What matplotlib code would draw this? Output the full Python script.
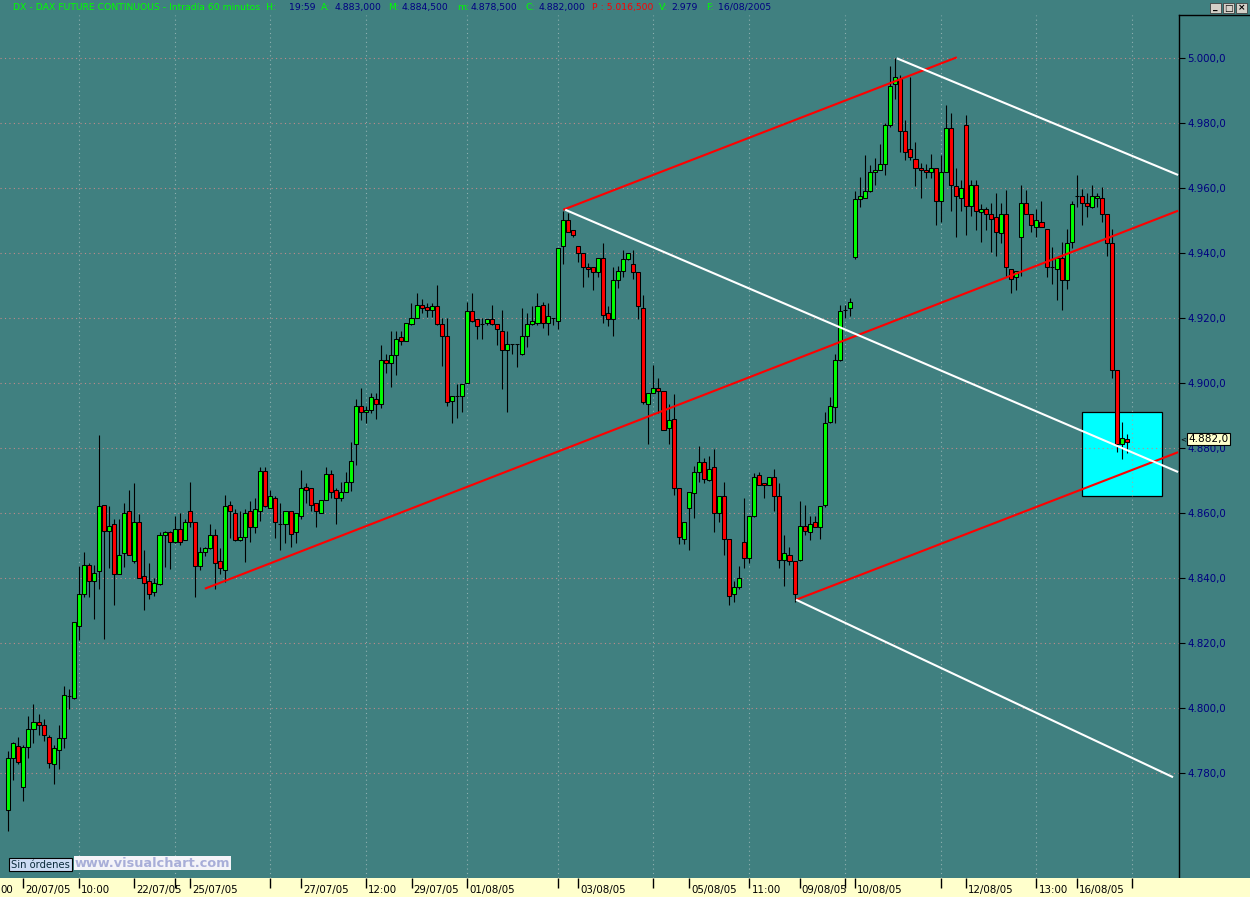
import matplotlib
matplotlib.use("Agg")
import matplotlib.pyplot as plt
import matplotlib.patches as mpatches
from matplotlib.lines import Line2D
from matplotlib.ticker import FixedLocator, FuncFormatter

# -----------------------------------------------------------
# Data: DAX future, 60 minute bars, 19/07/05 - 16/08/05
# -----------------------------------------------------------
opens = [
    4768.7, 4784.6, 4788.5, 4775.7, 4788.0, 4793.5, 4795.9, 4794.8, 4791.1, 4782.8,
    4787.2, 4790.8, 4803.8, 4803.1, 4825.2, 4835.1, 4844.0, 4839.1, 4842.2, 4862.5,
    4854.5, 4856.6, 4841.2, 4847.7, 4860.6, 4845.2, 4857.2, 4840.6, 4839.1, 4835.7,
    4838.2, 4853.2, 4854.2, 4851.1, 4855.1, 4851.7, 4860.6, 4857.2, 4843.7, 4848.0,
    4849.2, 4853.2, 4845.2, 4842.5, 4862.5, 4860.0, 4851.7, 4852.6, 4860.6, 4855.7,
    4860.6, 4873.1, 4861.5, 4864.6, 4856.6, 4856.6, 4860.6, 4854.2, 4859.1, 4868.0,
    4867.7, 4863.1, 4860.0, 4864.0, 4872.0, 4867.1, 4864.6, 4866.5, 4869.5, 4881.2,
    4892.9, 4891.1, 4891.7, 4895.1, 4893.5, 4907.1, 4906.2, 4908.6, 4914.2, 4912.9,
    4918.2, 4920.0, 4924.0, 4923.4, 4922.5, 4923.7, 4918.2, 4914.5, 4894.5, 4896.0,
    4896.0, 4900.0, 4922.2, 4919.7, 4918.2, 4918.5, 4919.7, 4918.2, 4916.0, 4910.2,
    4912.0, 4912.0, 4908.9, 4914.5, 4918.2, 4918.5, 4924.0, 4918.5, 4920.0, 4919.1,
    4942.2, 4950.2, 4947.1, 4942.2, 4940.0, 4935.7, 4935.7, 4934.2, 4938.5, 4921.5,
    4919.7, 4931.7, 4934.5, 4938.2, 4936.6, 4934.2, 4923.1, 4893.5, 4896.9, 4898.5,
    4897.5, 4886.2, 4888.9, 4867.7, 4852.0, 4861.5, 4866.2, 4872.6, 4875.7, 4870.2,
    4874.2, 4860.0, 4865.2, 4852.0, 4835.1, 4837.2, 4851.1, 4846.2, 4859.1, 4871.7,
    4869.2, 4868.6, 4871.1, 4865.2, 4845.5, 4847.1, 4845.2, 4845.5, 4856.0, 4854.2,
    4857.2, 4855.7, 4862.5, 4888.0, 4892.6, 4907.1, 4922.5, 4923.1, 4939.0, 4956.7,
    4956.9, 4959.1, 4964.9, 4965.5, 4967.4, 4979.4, 4992.0, 4993.5, 4977.5, 4972.0,
    4968.9, 4966.2, 4965.5, 4964.9, 4966.2, 4956.0, 4964.9, 4978.5, 4960.6, 4956.9,
    4979.4, 4954.5, 4960.9, 4952.6, 4953.5, 4952.0, 4951.1, 4946.2, 4952.0, 4935.1,
    4932.6, 4944.9, 4955.4, 4952.0, 4948.0, 4949.5, 4947.4, 4935.7, 4935.1, 4938.5,
    4931.7, 4943.4, 4957.6, 4957.6, 4955.4, 4954.2, 4956.9, 4956.9, 4952.0, 4943.1,
    4904.0, 4881.2, 4883.0,
]
highs = [
    4786.9, 4789.7, 4791.1, 4788.7, 4797.6, 4801.3, 4798.3, 4796.6, 4791.7, 4788.7,
    4794.9, 4806.9, 4805.8, 4826.5, 4843.8, 4848.0, 4844.6, 4844.0, 4884.1, 4862.5,
    4862.2, 4858.2, 4858.2, 4863.1, 4867.1, 4869.2, 4859.7, 4848.6, 4844.6, 4840.0,
    4854.2, 4854.5, 4854.5, 4859.1, 4860.0, 4858.2, 4869.5, 4857.2, 4849.5, 4849.5,
    4856.6, 4855.1, 4849.2, 4865.5, 4863.7, 4861.2, 4860.6, 4861.2, 4863.7, 4864.6,
    4874.4, 4874.4, 4867.1, 4865.2, 4863.1, 4860.6, 4860.6, 4860.0, 4873.3, 4869.2,
    4867.7, 4863.1, 4864.0, 4874.4, 4873.3, 4867.7, 4869.5, 4872.7, 4882.0, 4895.1,
    4898.5, 4892.9, 4896.9, 4896.9, 4911.7, 4908.9, 4916.0, 4916.0, 4916.0, 4918.5,
    4924.6, 4927.7, 4925.8, 4924.6, 4924.6, 4930.3, 4920.0, 4920.0, 4896.0, 4899.7,
    4899.7, 4924.9, 4927.7, 4919.7, 4920.0, 4919.7, 4924.0, 4918.2, 4922.5, 4916.0,
    4912.0, 4912.0, 4923.1, 4921.5, 4923.7, 4927.7, 4924.9, 4924.6, 4920.0, 4941.5,
    4952.9, 4952.3, 4947.1, 4942.2, 4940.0, 4936.9, 4935.7, 4938.5, 4943.1, 4923.7,
    4935.7, 4936.0, 4940.9, 4940.0, 4940.9, 4934.2, 4927.2, 4896.9, 4905.5, 4901.5,
    4897.5, 4893.5, 4896.6, 4867.7, 4857.2, 4866.5, 4874.5, 4880.6, 4876.9, 4877.5,
    4879.7, 4865.2, 4869.5, 4852.0, 4839.1, 4843.7, 4864.6, 4859.1, 4872.3, 4872.6,
    4869.2, 4871.1, 4873.5, 4869.2, 4853.2, 4849.5, 4845.2, 4863.7, 4862.5, 4859.1,
    4859.1, 4862.2, 4891.1, 4895.7, 4908.9, 4924.0, 4924.0, 4926.2, 4959.2, 4963.6,
    4970.2, 4967.1, 4969.2, 4973.5, 4980.0, 4997.7, 5000.0, 4994.8, 4980.9, 4994.2,
    4974.2, 4967.7, 4967.4, 4970.5, 4966.2, 4970.2, 4985.5, 4983.1, 4966.2, 4962.5,
    4982.5, 4962.5, 4962.5, 4955.1, 4954.2, 4955.4, 4958.5, 4955.4, 4959.4, 4935.1,
    4934.5, 4960.9, 4959.5, 4952.0, 4953.5, 4956.0, 4947.4, 4941.8, 4938.5, 4943.4,
    4947.4, 4956.0, 4964.0, 4959.7, 4958.5, 4960.9, 4958.5, 4960.3, 4952.0, 4947.4,
    4904.0, 4888.0, 4884.5,
]
lows = [
    4762.1, 4778.0, 4783.0, 4771.6, 4784.6, 4789.4, 4791.8, 4790.0, 4781.5, 4776.6,
    4781.2, 4787.9, 4799.7, 4802.8, 4821.0, 4834.2, 4834.2, 4827.6, 4836.6, 4821.2,
    4843.1, 4831.7, 4841.2, 4843.6, 4847.1, 4844.6, 4840.0, 4830.4, 4833.5, 4834.5,
    4838.0, 4843.6, 4843.0, 4851.0, 4850.2, 4851.7, 4855.7, 4834.4, 4842.5, 4847.0,
    4849.0, 4836.6, 4841.2, 4838.8, 4852.3, 4851.5, 4851.5, 4844.9, 4851.1, 4853.8,
    4857.5, 4862.0, 4861.5, 4852.3, 4848.6, 4850.8, 4849.5, 4850.8, 4858.2, 4863.1,
    4860.6, 4855.7, 4860.0, 4864.0, 4864.6, 4856.6, 4863.7, 4866.5, 4867.0, 4874.9,
    4888.7, 4887.7, 4890.8, 4888.9, 4892.3, 4903.1, 4899.0, 4902.5, 4911.7, 4912.9,
    4918.0, 4920.0, 4921.5, 4920.3, 4920.3, 4918.0, 4905.4, 4892.9, 4887.7, 4889.2,
    4891.1, 4900.0, 4919.0, 4913.5, 4913.5, 4918.0, 4918.0, 4911.7, 4898.4, 4891.1,
    4909.0, 4904.9, 4908.6, 4911.1, 4918.0, 4918.0, 4916.9, 4915.0, 4918.0, 4916.6,
    4936.6, 4946.5, 4945.0, 4937.2, 4929.5, 4932.6, 4928.6, 4932.6, 4918.5, 4917.5,
    4914.5, 4929.2, 4932.6, 4938.0, 4932.0, 4919.7, 4893.5, 4881.2, 4896.9, 4890.8,
    4885.5, 4881.2, 4865.5, 4850.5, 4850.5, 4848.6, 4858.5, 4869.5, 4869.2, 4870.0,
    4854.2, 4857.2, 4847.1, 4831.7, 4832.6, 4836.6, 4843.1, 4844.6, 4859.0, 4868.6,
    4864.6, 4868.6, 4860.6, 4843.1, 4837.5, 4844.0, 4832.6, 4845.2, 4853.2, 4851.7,
    4855.7, 4852.0, 4862.0, 4887.7, 4887.7, 4907.0, 4920.0, 4920.8, 4938.2, 4954.2,
    4956.9, 4959.0, 4960.9, 4965.5, 4964.0, 4979.0, 4987.4, 4971.1, 4968.6, 4968.6,
    4960.6, 4956.9, 4963.1, 4963.1, 4948.6, 4949.5, 4964.9, 4952.9, 4944.9, 4952.9,
    4945.5, 4951.4, 4947.1, 4943.4, 4947.1, 4940.3, 4939.1, 4943.1, 4932.6, 4927.7,
    4928.6, 4932.9, 4952.0, 4946.5, 4944.9, 4948.0, 4932.6, 4930.5, 4925.5, 4922.5,
    4928.9, 4941.5, 4954.2, 4948.6, 4951.1, 4954.0, 4954.2, 4949.5, 4939.1, 4901.5,
    4879.0, 4876.6, 4878.5,
]
closes = [
    4784.6, 4789.2, 4783.6, 4788.0, 4793.5, 4795.9, 4794.8, 4791.7, 4783.1, 4787.7,
    4790.8, 4804.0, 4803.8, 4826.5, 4835.1, 4844.0, 4839.1, 4841.5, 4862.2, 4854.5,
    4856.0, 4841.2, 4847.1, 4860.0, 4847.1, 4857.2, 4840.0, 4838.5, 4835.1, 4838.5,
    4853.2, 4854.2, 4851.1, 4855.1, 4851.1, 4857.2, 4857.2, 4843.7, 4848.0, 4849.2,
    4853.2, 4844.6, 4843.1, 4862.2, 4860.6, 4851.7, 4852.6, 4860.0, 4855.7, 4861.2,
    4873.1, 4862.2, 4865.2, 4857.2, 4856.6, 4860.6, 4853.5, 4860.0, 4867.7, 4867.1,
    4862.5, 4860.6, 4864.0, 4872.0, 4866.5, 4864.6, 4866.5, 4869.5, 4876.0, 4892.9,
    4891.1, 4891.9, 4895.7, 4893.6, 4907.1, 4906.2, 4908.6, 4913.5, 4912.9, 4918.5,
    4920.0, 4924.0, 4923.1, 4922.6, 4923.7, 4918.2, 4914.5, 4894.2, 4896.0, 4896.0,
    4899.7, 4922.2, 4919.1, 4917.5, 4918.2, 4919.7, 4918.2, 4916.6, 4910.2, 4912.0,
    4912.0, 4912.0, 4914.5, 4918.2, 4919.1, 4923.7, 4918.5, 4920.6, 4920.0, 4941.5,
    4950.2, 4946.5, 4945.5, 4940.0, 4935.7, 4935.1, 4934.2, 4938.5, 4920.9, 4919.7,
    4931.7, 4934.5, 4938.2, 4940.0, 4934.2, 4923.7, 4894.2, 4896.9, 4898.5, 4897.5,
    4885.5, 4888.6, 4867.7, 4852.6, 4857.2, 4866.5, 4872.6, 4875.7, 4870.5, 4873.5,
    4860.0, 4865.2, 4852.0, 4834.5, 4837.2, 4840.0, 4846.2, 4859.1, 4871.1, 4868.6,
    4868.6, 4871.1, 4865.2, 4845.5, 4847.7, 4845.2, 4835.1, 4856.0, 4854.5, 4856.6,
    4855.7, 4862.2, 4887.7, 4892.9, 4907.1, 4922.2, 4922.5, 4924.9, 4956.7, 4957.6,
    4959.1, 4964.9, 4965.5, 4967.4, 4979.4, 4991.4, 4994.2, 4977.5, 4971.1, 4969.5,
    4966.2, 4965.5, 4964.9, 4966.2, 4956.0, 4964.9, 4978.5, 4960.9, 4957.5, 4960.0,
    4954.5, 4960.9, 4952.9, 4953.5, 4952.0, 4950.5, 4946.5, 4952.0, 4935.7, 4932.0,
    4934.5, 4955.4, 4952.0, 4948.6, 4950.2, 4948.0, 4935.7, 4935.7, 4938.5, 4931.7,
    4943.1, 4955.1, 4957.6, 4955.4, 4954.5, 4957.6, 4957.6, 4952.0, 4943.1, 4904.0,
    4881.2, 4883.1, 4882.0,
]

# price levels on the right scale
price_ticks = [4780, 4800, 4820, 4840, 4860, 4880, 4900, 4920, 4940, 4960, 4980, 5000]

# time axis: bar index of each tick and its label ("" = unlabelled tick)
time_tick_bars = [3, 14, 25, 33, 36, 52, 58, 71, 80, 91, 109, 113, 128, 135,
                  147, 157, 166, 168, 185, 190, 204, 212, 223]
time_tick_labels = ["20/07/05", "10:00", "22/07/05", "", "25/07/05", "", "27/07/05",
                    "12:00", "29/07/05", "01/08/05", "", "03/08/05", "", "05/08/05",
                    "11:00", "09/08/05", "", "10/08/05", "", "12/08/05", "13:00",
                    "16/08/05", ""]
grid_bars = [14, 33, 52, 71, 91, 109, 128, 147, 166, 185, 204, 223]

# drawn trend lines: (bar, price) anchors
red_lines_bars = [(39.0, 232.1), (110.1, 188.2), (156.3, 232.1)]
red_lines_prices = [(4836.8, 4953.1), (4953.4, 5000.3), (4833.4, 4878.8)]
white_lines_bars = [(110.5, 232.1), (176.3, 232.1), (156.3, 231.1)]
white_lines_prices = [(4953.4, 4872.7), (5000.0, 4964.1), (4833.4, 4778.8)]

# highlighted zone
zone_bars = (213.1, 229.0)
zone_prices = (4865.4, 4891.3)

# header fields
header_parts = [
    ("DX - DAX FUTURE CONTINUOUS - Intradía 60 minutos  H:", "#00ff00"),
    ("19:59", "#000080"), ("A:", "#00ff00"), ("4.883,000", "#000080"),
    ("M:", "#00ff00"), ("4.884,500", "#000080"), ("m:", "#00ff00"),
    ("4.878,500", "#000080"), ("C:", "#00ff00"), ("4.882,000", "#000080"),
    ("P : 5.016,500", "#ff0000"), ("V:", "#00ff00"), ("2.979", "#000080"),
    ("F:", "#00ff00"), ("16/08/2005", "#000080"),
]
header_x = [13, 289, 321, 335, 388, 402, 457, 471, 526, 539, 592, 659, 671, 706, 718]

# -----------------------------------------------------------
# Layout (pixels of the 1250x897 screenshot)
# -----------------------------------------------------------
W, H = 1250, 897
BAR_PX, BAR0_PX = 5.04, 8.3
PLOT_RIGHT, PLOT_TOP, PLOT_BOTTOM = 1179, 15, 878
PT_PX, Y5000 = 3.25, 58.3
TEAL = "#408080"

def fx(x):
    return x / W

def fy(y):
    return 1 - y / H

fig = plt.figure(figsize=(W / 100, H / 100), dpi=100)
fig.patch.set_facecolor(TEAL)

ax = fig.add_axes([0, fy(PLOT_BOTTOM), PLOT_RIGHT / W, (PLOT_BOTTOM - PLOT_TOP) / H])
ax.set_facecolor(TEAL)
ax.set_xlim(-BAR0_PX / BAR_PX, (PLOT_RIGHT - BAR0_PX) / BAR_PX)
ax.set_ylim(5000 - (PLOT_BOTTOM - Y5000) / PT_PX, 5000 + (Y5000 - PLOT_TOP) / PT_PX)

# dotted grid
ax.hlines(price_ticks, *ax.get_xlim(), colors="#c08a8a", linestyles=(0, (1, 3)),
          linewidth=0.8, zorder=2)
ax.vlines(grid_bars, *ax.get_ylim(), colors="#8fb0b0", linestyles=(0, (1, 3)),
          linewidth=0.8, zorder=2)

# highlighted zone
ax.add_patch(mpatches.Rectangle((zone_bars[0], zone_prices[0]),
                                zone_bars[1] - zone_bars[0],
                                zone_prices[1] - zone_prices[0],
                                facecolor="#00ffff", edgecolor="black",
                                linewidth=0.9, zorder=1))

# candles
idx = list(range(len(closes)))
ax.vlines(idx, lows, highs, colors="black", linewidth=0.8, zorder=3)
body_bottom = [min(o, c) for o, c in zip(opens, closes)]
body_height = [abs(c - o) for o, c in zip(opens, closes)]
body_color = ["#00ff00" if c >= o else "#ff0000" for o, c in zip(opens, closes)]
ax.bar(idx, body_height, bottom=body_bottom, width=0.8, color=body_color,
       edgecolor="black", linewidth=0.75, zorder=4)

# trend lines
for bx, py in zip(red_lines_bars, red_lines_prices):
    ax.plot(bx, py, color="#ff0000", linewidth=1.5, zorder=5, solid_capstyle="butt")
for bx, py in zip(white_lines_bars, white_lines_prices):
    ax.plot(bx, py, color="white", linewidth=1.5, zorder=5, solid_capstyle="butt")

# right price scale
def euro_fmt(v, pos=None):
    s = f"{v:,.1f}"
    return s.replace(",", "X").replace(".", ",").replace("X", ".")

for side in ["top", "left", "bottom"]:
    ax.spines[side].set_visible(False)
ax.spines["right"].set_color("black")
ax.spines["right"].set_linewidth(1.0)
ax.set_xticks([])
ax.yaxis.set_major_locator(FixedLocator(price_ticks))
ax.yaxis.set_major_formatter(FuncFormatter(euro_fmt))
ax.tick_params(axis="y", left=False, labelleft=False, right=True, labelright=True,
               direction="out", length=4.5, width=0.8, color="black",
               labelcolor="#000080", labelsize=7.4, pad=1.5)

# last price tag
ax.annotate(euro_fmt(closes[-1]), xy=(1.0, closes[-1]),
            xycoords=ax.get_yaxis_transform(), xytext=(6.5, 2),
            textcoords="offset points", ha="left", va="center", fontsize=7.6,
            color="black", zorder=10, annotation_clip=False,
            bbox=dict(boxstyle="square,pad=0.12", fc="#ffffcc", ec="black", lw=0.8))
ax.annotate("<", xy=(1.0, closes[-1]), xycoords=ax.get_yaxis_transform(),
            xytext=(1.2, 2), textcoords="offset points", ha="left", va="center",
            fontsize=5, color="black", annotation_clip=False)

# right panel top border
fig.add_artist(Line2D([fx(PLOT_RIGHT), 1], [fy(PLOT_TOP), fy(PLOT_TOP)],
                      color="black", linewidth=1.0))

# time axis band
band = fig.add_axes([0, 0, 1, (H - PLOT_BOTTOM) / H])
band.set_facecolor("#ffffcc")
band.set_xlim(-BAR0_PX / BAR_PX, (W - BAR0_PX) / BAR_PX)
band.set_ylim(0, H - PLOT_BOTTOM)
band.set_xticks([])
band.set_yticks([])
for s in band.spines.values():
    s.set_visible(False)
band_h = H - PLOT_BOTTOM
band.vlines(time_tick_bars, band_h - 10, band_h, colors="black", linewidth=1.0)
for b, lab in zip(time_tick_bars, time_tick_labels):
    if lab:
        band.text(b + 0.45, band_h - 12, lab, ha="left", va="center",
                  fontsize=7.4, color="black")
band.text(band.get_xlim()[0], band_h - 12, "00", ha="left", va="center",
          fontsize=7.4, color="black")

# header line
for (txt, col), x in zip(header_parts, header_x):
    fig.text(fx(x), fy(7.5), txt, color=col, fontsize=6.7, ha="left", va="center")

# window buttons
for x0, sym in [(1210, "_"), (1223, "□"), (1236, "×")]:
    fig.add_artist(mpatches.Rectangle((fx(x0), fy(13)), 11 / W, 10 / H,
                                      transform=fig.transFigure, facecolor="#d4d0c8",
                                      edgecolor="#404040", linewidth=0.6))
    fig.text(fx(x0 + 5.5), fy(8), sym, fontsize=6.5, ha="center", va="center",
             color="black", fontweight="bold")

# order box and watermark
fig.add_artist(mpatches.Rectangle((fx(9), fy(871)), 63 / W, 13 / H,
                                  transform=fig.transFigure, facecolor="#ccdcf4",
                                  edgecolor="black", linewidth=0.8))
fig.text(fx(40.5), fy(864.5), "Sin órdenes", fontsize=7.2, ha="center",
         va="center", color="#0a2a3a")
fig.text(fx(75), fy(863), "www.visualchart.com", fontsize=9.3, fontweight="bold",
         ha="left", va="center", color="#a8aed8",
         bbox=dict(boxstyle="square,pad=0.05", fc="#f4f4f8", ec="none"))

fig.savefig("out.png", dpi=100, facecolor=TEAL)
